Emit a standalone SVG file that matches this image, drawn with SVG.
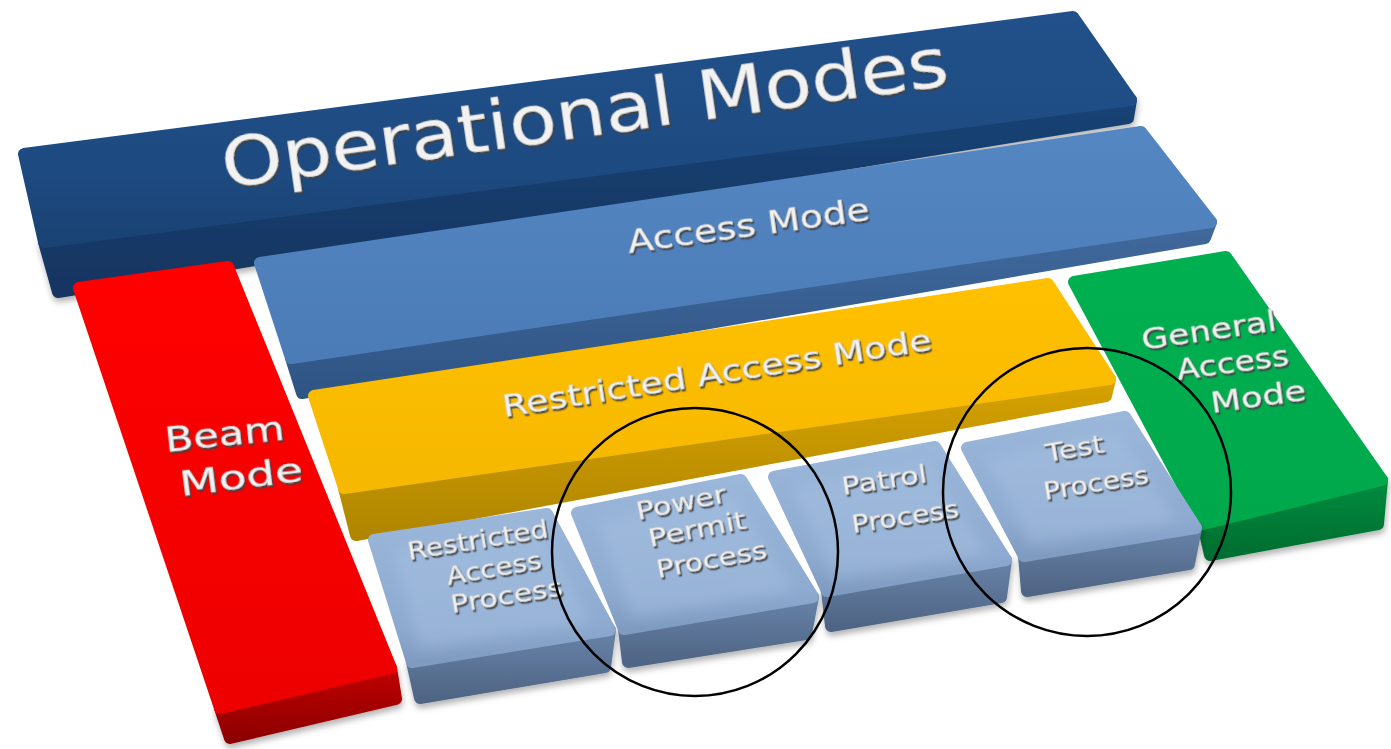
<svg xmlns="http://www.w3.org/2000/svg" width="1391" height="749" viewBox="0 0 1391 749">
<defs>
  <linearGradient id="gDB" x1="0" y1="0" x2="0" y2="1"><stop offset="0" stop-color="#21508a"/><stop offset="0.7" stop-color="#1d4a80"/><stop offset="1" stop-color="#1a4274"/></linearGradient>
  <linearGradient id="gDBf" x1="0" y1="0" x2="0" y2="1"><stop offset="0" stop-color="#1a4274"/><stop offset="1" stop-color="#143561"/></linearGradient>
  <linearGradient id="gAM" x1="0" y1="0" x2="0" y2="1"><stop offset="0" stop-color="#5486c2"/><stop offset="1" stop-color="#4b7cb8"/></linearGradient>
  <linearGradient id="gAMf" x1="0" y1="0" x2="0" y2="1"><stop offset="0" stop-color="#41699c"/><stop offset="1" stop-color="#2f5585"/></linearGradient>
  <linearGradient id="gR" x1="0" y1="0" x2="0" y2="1"><stop offset="0" stop-color="#ff0000"/><stop offset="1" stop-color="#ee0000"/></linearGradient>
  <linearGradient id="gRf" x1="0" y1="0" x2="0" y2="1"><stop offset="0" stop-color="#c00000"/><stop offset="1" stop-color="#8e0000"/></linearGradient>
  <linearGradient id="gY" x1="0" y1="0" x2="0" y2="1"><stop offset="0" stop-color="#ffc000"/><stop offset="1" stop-color="#f6b800"/></linearGradient>
  <linearGradient id="gYf" x1="0" y1="0" x2="0" y2="1"><stop offset="0" stop-color="#d6a200"/><stop offset="1" stop-color="#b08600"/></linearGradient>
  <linearGradient id="gG" x1="0" y1="0" x2="0" y2="1"><stop offset="0" stop-color="#00b050"/><stop offset="1" stop-color="#00a84c"/></linearGradient>
  <linearGradient id="gGf" x1="0" y1="0" x2="0" y2="1"><stop offset="0" stop-color="#008c3e"/><stop offset="1" stop-color="#006e30"/></linearGradient>
  <linearGradient id="gK" x1="0" y1="0" x2="0" y2="1"><stop offset="0" stop-color="#9ab7da"/><stop offset="0.75" stop-color="#8eaad0"/><stop offset="1" stop-color="#7f9bc0"/></linearGradient>
  <linearGradient id="gKf" x1="0" y1="0" x2="0" y2="1"><stop offset="0" stop-color="#6883a8"/><stop offset="1" stop-color="#4f6585"/></linearGradient>
  <filter id="emb" x="-10%" y="-30%" width="130%" height="180%">
    <feDropShadow dx="1.3" dy="2.3" stdDeviation="0.6" flood-color="#404040" flood-opacity="0.9"/>
  </filter>
  <filter id="sh" x="-10%" y="-10%" width="130%" height="140%">
    <feDropShadow dx="1" dy="4" stdDeviation="3" flood-color="#000" flood-opacity="0.3"/>
  </filter>
  <filter id="soft" x="-20%" y="-20%" width="140%" height="140%">
    <feGaussianBlur stdDeviation="7"/>
  </filter>
</defs>
<style>
  .face{stroke-linejoin:round;stroke-width:12}
  .t{font-family:"DejaVu Sans",Verdana,sans-serif;fill:#f2f2f2;stroke:#c8c8c8;stroke-width:0.4;filter:url(#emb)}
  .ring{fill:none;stroke:#000;stroke-width:2.5}
  .hl{fill:#a6c1e1;opacity:0.45;filter:url(#soft)}
</style>

<g id="operational-modes">
  <polygon class="face" fill="url(#gDBf)" stroke="url(#gDBf)" filter="url(#sh)" points="44,242 1131,100 1128,118 58,292"/>
  <polygon class="face" fill="url(#gDB)" stroke="url(#gDB)" points="24,154 1073,17 1131,100 44,242"/>
  <text class="t" font-size="68" textLength="733" lengthAdjust="spacingAndGlyphs" transform="translate(225,188) rotate(-8.1)">Operational Modes</text>
</g>

<g id="access-mode">
  <polygon class="face" fill="url(#gAMf)" stroke="url(#gAMf)" points="291,358 1211,222 1205,238 302,393"/>
  <polygon class="face" fill="url(#gAM)" stroke="url(#gAM)" points="260,263 1141,132 1211,222 291,358"/>
  <text class="t" font-size="32" textLength="244" lengthAdjust="spacingAndGlyphs" transform="translate(629,253) rotate(-7.8)">Access Mode</text>
</g>

<g id="beam-mode">
  <polygon class="face" fill="url(#gRf)" stroke="url(#gRf)" filter="url(#sh)" points="220,708 391,668 396,699 230,738"/>
  <polygon class="face" fill="url(#gR)" stroke="url(#gR)" points="79,288 228,267 391,668 220,708"/>
  <text class="t" font-size="33" textLength="120" lengthAdjust="spacingAndGlyphs" transform="translate(166,452) rotate(-6)">Beam</text>
  <text class="t" font-size="33" textLength="124" lengthAdjust="spacingAndGlyphs" transform="translate(181,496) rotate(-7)">Mode</text>
</g>

<g id="restricted-access-mode">
  <polygon class="face" fill="url(#gYf)" stroke="url(#gYf)" points="344,488 1110,379 1106,396 356,535"/>
  <polygon class="face" fill="url(#gY)" stroke="url(#gY)" points="314,396 1048,284 1110,379 344,488"/>
  <text class="t" font-size="30" textLength="434" lengthAdjust="spacingAndGlyphs" transform="translate(504,417) rotate(-8.9)">Restricted Access Mode</text>
</g>

<g id="general-access-mode">
  <polygon class="face" fill="url(#gGf)" stroke="url(#gGf)" filter="url(#sh)" points="1203,524 1382,480 1378,524 1210,555"/>
  <polygon class="face" fill="url(#gG)" stroke="url(#gG)" points="1074,282 1226,257 1382,480 1203,524"/>
  <text class="t" font-size="28" textLength="136" lengthAdjust="spacingAndGlyphs" transform="translate(1143,350) rotate(-8.4)">General</text>
  <text class="t" font-size="28" textLength="113" lengthAdjust="spacingAndGlyphs" transform="translate(1178,380) rotate(-7.6)">Access</text>
  <text class="t" font-size="28" textLength="96" lengthAdjust="spacingAndGlyphs" transform="translate(1212,413) rotate(-7.8)">Mode</text>
</g>

<g id="restricted-access-process">
  <polygon class="face" fill="url(#gKf)" stroke="url(#gKf)" filter="url(#sh)" points="412,662 610,630 605,667 420,698"/>
  <polygon class="face" fill="url(#gK)" stroke="url(#gK)" points="374,540 547,514 610,630 412,662"/>
  <polygon class="hl" points="392,550 540,528 592,622 420,650"/>
  <text class="t" font-size="24" textLength="142" lengthAdjust="spacingAndGlyphs" transform="translate(409,560) rotate(-9.3)">Restricted</text>
  <text class="t" font-size="24" textLength="96" lengthAdjust="spacingAndGlyphs" transform="translate(448,585) rotate(-10)">Access</text>
  <text class="t" font-size="24" textLength="113" lengthAdjust="spacingAndGlyphs" transform="translate(452,613) rotate(-9)">Process</text>
</g>

<g id="power-permit-process">
  <polygon class="face" fill="url(#gKf)" stroke="url(#gKf)" filter="url(#sh)" points="624,629 813,597 806,634 628,662"/>
  <polygon class="face" fill="url(#gK)" stroke="url(#gK)" points="577,513 741,480 813,597 624,629"/>
  <polygon class="hl" points="596,522 733,495 795,590 632,618"/>
  <text class="t" font-size="24" textLength="91" lengthAdjust="spacingAndGlyphs" transform="translate(638,520) rotate(-11.4)">Power</text>
  <text class="t" font-size="24" textLength="99" lengthAdjust="spacingAndGlyphs" transform="translate(650,547) rotate(-11)">Permit</text>
  <text class="t" font-size="24" textLength="112" lengthAdjust="spacingAndGlyphs" transform="translate(658,578) rotate(-10.3)">Process</text>
</g>

<g id="patrol-process">
  <polygon class="face" fill="url(#gKf)" stroke="url(#gKf)" filter="url(#sh)" points="827,591 1006,560 1001,597 831,626"/>
  <polygon class="face" fill="url(#gK)" stroke="url(#gK)" points="774,477 935,447 1006,560 827,591"/>
  <polygon class="hl" points="792,487 927,462 988,553 834,580"/>
  <text class="t" font-size="24" textLength="86" lengthAdjust="spacingAndGlyphs" transform="translate(843,495) rotate(-8.7)">Patrol</text>
  <text class="t" font-size="24" textLength="108" lengthAdjust="spacingAndGlyphs" transform="translate(853,533) rotate(-8.5)">Process</text>
</g>

<g id="test-process">
  <polygon class="face" fill="url(#gKf)" stroke="url(#gKf)" filter="url(#sh)" points="1024,556 1196,528 1189,564 1027,591"/>
  <polygon class="face" fill="url(#gK)" stroke="url(#gK)" points="967,448 1125,417 1196,528 1024,556"/>
  <polygon class="hl" points="985,458 1117,432 1178,521 1031,545"/>
  <text class="t" font-size="24" textLength="59" lengthAdjust="spacingAndGlyphs" transform="translate(1047,462) rotate(-9.8)">Test</text>
  <text class="t" font-size="24" textLength="106" lengthAdjust="spacingAndGlyphs" transform="translate(1045,500) rotate(-9.2)">Process</text>
</g>

<g id="connectors">
  <ellipse class="ring" cx="695" cy="552" rx="143" ry="144"/>
  <ellipse class="ring" cx="1087" cy="492" rx="144" ry="144"/>
</g>
</svg>
